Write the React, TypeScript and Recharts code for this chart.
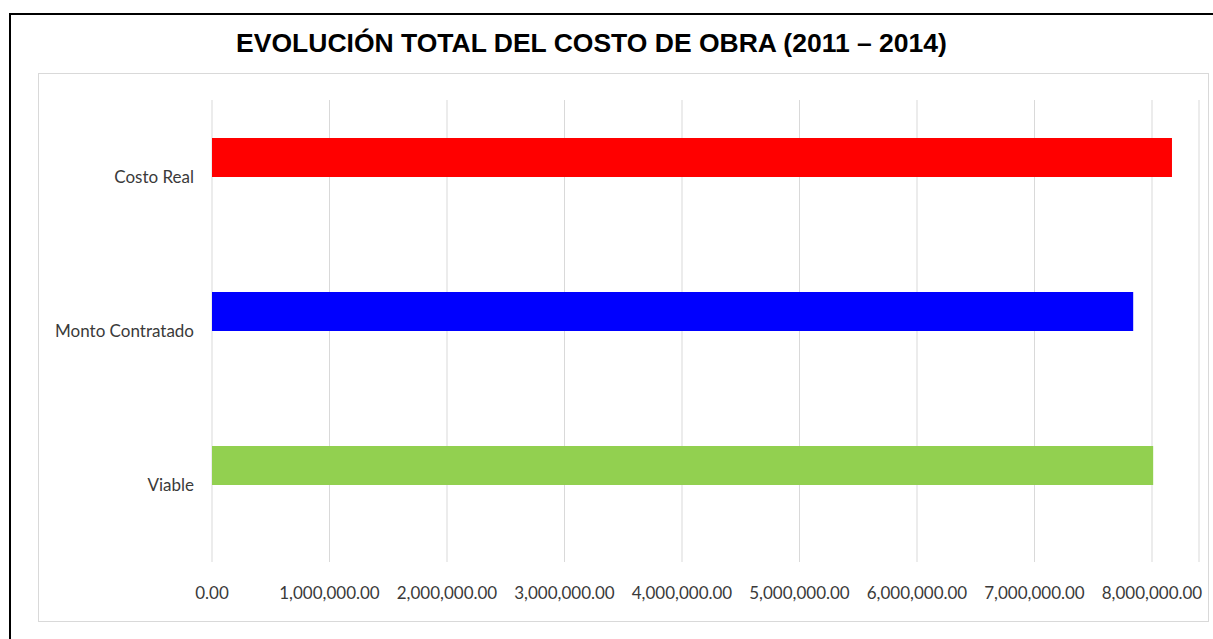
import React from 'react';
import { BarChart, Bar, Cell, XAxis, YAxis, CartesianGrid } from 'recharts';

// Categorías en el orden en que aparecen (de arriba hacia abajo)
const categorias = ['Costo Real', 'Monto Contratado', 'Viable'];
// Montos
const montos = [8170000, 7840000, 8010000];
// Segunda serie vacía (Excel reservaba su espacio debajo de cada barra)
const serieVacia = [null, null, null];
const coloresBarras = ['#FF0000', '#0000FF', '#92D050'];
const ticksX = [0, 1000000, 2000000, 3000000, 4000000, 5000000, 6000000, 7000000, 8000000];

const data = categorias.map((categoria, i) => ({
  categoria,
  monto: montos[i],
  vacia: serieVacia[i],
}));

const formatoMonto = (v: number) =>
  v.toLocaleString('en-US', { minimumFractionDigits: 2, maximumFractionDigits: 2 });

const App: React.FC = () => {
  return (
    <div
      style={{
        position: 'absolute',
        left: 0,
        top: 0,
        width: 1213,
        height: 639,
        overflow: 'hidden',
        background: '#fff',
      }}
    >
      {/* marco exterior */}
      <div
        style={{
          position: 'absolute',
          left: 9,
          top: 13,
          width: 1300,
          height: 700,
          borderLeft: '2px solid #000',
          borderTop: '2px solid #000',
        }}
      />
      <div
        style={{
          position: 'absolute',
          left: 0,
          top: 29.6,
          width: 1183,
          textAlign: 'center',
          fontFamily: '"Liberation Sans", Arial, sans-serif',
          fontWeight: 'bold',
          fontSize: 26.5,
          lineHeight: '26.5px',
          color: '#000',
          whiteSpace: 'nowrap',
        }}
      >
        EVOLUCIÓN TOTAL DEL COSTO DE OBRA (2011 – 2014)
      </div>
      <div
        style={{
          position: 'absolute',
          left: 38,
          top: 73,
          width: 1171,
          height: 549,
          boxSizing: 'border-box',
          border: '1px solid #d9d9d9',
        }}
      >
        <BarChart
          width={1169}
          height={547}
          data={data}
          layout="vertical"
          margin={{ top: 26, right: 9, left: 0, bottom: 0 }}
          barSize={39}
          barGap={0}
        >
          <CartesianGrid horizontal={false} stroke="#d9d9d9" />
          <XAxis
            type="number"
            domain={[0, 8400000]}
            ticks={ticksX}
            tickFormatter={formatoMonto}
            axisLine={false}
            tickLine={false}
            tickSize={0}
            tickMargin={25}
            height={59}
            interval={0}
            tick={{ fill: '#3a3a3a', fontSize: 17, fontFamily: 'Lato, sans-serif' }}
          />
          <YAxis
            type="category"
            dataKey="categoria"
            width={173}
            axisLine={false}
            tickLine={false}
            tickSize={0}
            tickMargin={18}
            interval={0}
            tick={{ fill: '#3a3a3a', fontSize: 17, fontFamily: 'Lato, sans-serif' }}
          />
          <Bar dataKey="monto" isAnimationActive={false}>
            {data.map((_, i) => (
              <Cell key={`cell-${i}`} fill={coloresBarras[i]} />
            ))}
          </Bar>
          <Bar dataKey="vacia" fill="#ffffff" isAnimationActive={false} />
        </BarChart>
      </div>
    </div>
  );
};

export default App;
